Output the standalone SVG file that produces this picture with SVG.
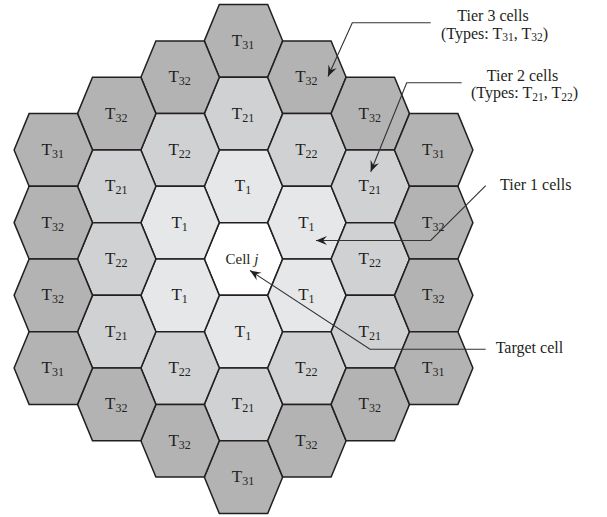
<svg xmlns="http://www.w3.org/2000/svg" xmlns:xlink="http://www.w3.org/1999/xlink" width="607" height="517" viewBox="0 0 607 517">
<style>
.hx{stroke:#231f20;stroke-width:1.5;stroke-linejoin:miter}
.t3{fill:#b3b3b3}
.t2{fill:#d0d1d3}
.t1{fill:#e6e7e8}
.c0{fill:#ffffff}
.lb{font-family:"Liberation Serif","Times New Roman",serif;font-size:17px;fill:#231f20;text-anchor:middle}
.lb tspan.s{font-size:12px}
.an{font-family:"Liberation Serif","Times New Roman",serif;font-size:16px;fill:#231f20}
.an tspan.s{font-size:11.5px}
.cn{fill:none;stroke:#333333;stroke-width:1.1}
</style>
<defs>
<polygon id="hex" points="-39.2,0 -24.2,-36.35 24.2,-36.35 39.2,0 24.2,36.35 -24.2,36.35"/>
<marker id="ah" markerUnits="userSpaceOnUse" markerWidth="14" markerHeight="12" viewBox="-12 -6 14 12" refX="0" refY="0" orient="auto">
<path d="M0,0 L-11,-4.5 L-7,0 L-11,4.5 Z" fill="#231f20"/>
</marker>
</defs>

<!-- column 0 -->
<g id="c0r-3"><use xlink:href="#hex" class="hx t3" x="243.5" y="40.9"/><text class="lb" x="243" y="45.9">T<tspan class="s" dy="3">31</tspan></text></g>
<g id="c0r-2"><use xlink:href="#hex" class="hx t2" x="243.5" y="113.6"/><text class="lb" x="243" y="118.6">T<tspan class="s" dy="3">21</tspan></text></g>
<g id="c0r-1"><use xlink:href="#hex" class="hx t1" x="243.5" y="186.3"/><text class="lb" x="243" y="191.3">T<tspan class="s" dy="3">1</tspan></text></g>
<g id="cellj"><use xlink:href="#hex" class="hx c0" x="243.5" y="259"/><text class="lb" x="242" y="264" style="font-size:15px">Cell <tspan font-style="italic">j</tspan></text></g>
<g id="c0r1"><use xlink:href="#hex" class="hx t1" x="243.5" y="331.7"/><text class="lb" x="243" y="336.7">T<tspan class="s" dy="3">1</tspan></text></g>
<g id="c0r2"><use xlink:href="#hex" class="hx t2" x="243.5" y="404.4"/><text class="lb" x="243" y="409.4">T<tspan class="s" dy="3">21</tspan></text></g>
<g id="c0r3"><use xlink:href="#hex" class="hx t3" x="243.5" y="477.1"/><text class="lb" x="243" y="482.1">T<tspan class="s" dy="3">31</tspan></text></g>

<!-- column -1 -->
<g id="cm1a"><use xlink:href="#hex" class="hx t3" x="180.1" y="77.25"/><text class="lb" x="179.6" y="82.25">T<tspan class="s" dy="3">32</tspan></text></g>
<g id="cm1b"><use xlink:href="#hex" class="hx t2" x="180.1" y="149.95"/><text class="lb" x="179.6" y="154.95">T<tspan class="s" dy="3">22</tspan></text></g>
<g id="cm1c"><use xlink:href="#hex" class="hx t1" x="180.1" y="222.65"/><text class="lb" x="179.6" y="227.65">T<tspan class="s" dy="3">1</tspan></text></g>
<g id="cm1d"><use xlink:href="#hex" class="hx t1" x="180.1" y="295.35"/><text class="lb" x="179.6" y="300.35">T<tspan class="s" dy="3">1</tspan></text></g>
<g id="cm1e"><use xlink:href="#hex" class="hx t2" x="180.1" y="368.05"/><text class="lb" x="179.6" y="373.05">T<tspan class="s" dy="3">22</tspan></text></g>
<g id="cm1f"><use xlink:href="#hex" class="hx t3" x="180.1" y="440.75"/><text class="lb" x="179.6" y="445.75">T<tspan class="s" dy="3">32</tspan></text></g>

<!-- column +1 -->
<g id="cp1a"><use xlink:href="#hex" class="hx t3" x="306.9" y="77.25"/><text class="lb" x="306.4" y="82.25">T<tspan class="s" dy="3">32</tspan></text></g>
<g id="cp1b"><use xlink:href="#hex" class="hx t2" x="306.9" y="149.95"/><text class="lb" x="306.4" y="154.95">T<tspan class="s" dy="3">22</tspan></text></g>
<g id="cp1c"><use xlink:href="#hex" class="hx t1" x="306.9" y="222.65"/><text class="lb" x="306.4" y="227.65">T<tspan class="s" dy="3">1</tspan></text></g>
<g id="cp1d"><use xlink:href="#hex" class="hx t1" x="306.9" y="295.35"/><text class="lb" x="306.4" y="300.35">T<tspan class="s" dy="3">1</tspan></text></g>
<g id="cp1e"><use xlink:href="#hex" class="hx t2" x="306.9" y="368.05"/><text class="lb" x="306.4" y="373.05">T<tspan class="s" dy="3">22</tspan></text></g>
<g id="cp1f"><use xlink:href="#hex" class="hx t3" x="306.9" y="440.75"/><text class="lb" x="306.4" y="445.75">T<tspan class="s" dy="3">32</tspan></text></g>

<!-- column -2 -->
<g id="cm2a"><use xlink:href="#hex" class="hx t3" x="116.7" y="113.6"/><text class="lb" x="116.2" y="118.6">T<tspan class="s" dy="3">32</tspan></text></g>
<g id="cm2b"><use xlink:href="#hex" class="hx t2" x="116.7" y="186.3"/><text class="lb" x="116.2" y="191.3">T<tspan class="s" dy="3">21</tspan></text></g>
<g id="cm2c"><use xlink:href="#hex" class="hx t2" x="116.7" y="259"/><text class="lb" x="116.2" y="264">T<tspan class="s" dy="3">22</tspan></text></g>
<g id="cm2d"><use xlink:href="#hex" class="hx t2" x="116.7" y="331.7"/><text class="lb" x="116.2" y="336.7">T<tspan class="s" dy="3">21</tspan></text></g>
<g id="cm2e"><use xlink:href="#hex" class="hx t3" x="116.7" y="404.4"/><text class="lb" x="116.2" y="409.4">T<tspan class="s" dy="3">32</tspan></text></g>

<!-- column +2 -->
<g id="cp2a"><use xlink:href="#hex" class="hx t3" x="370.3" y="113.6"/><text class="lb" x="369.8" y="118.6">T<tspan class="s" dy="3">32</tspan></text></g>
<g id="cp2b"><use xlink:href="#hex" class="hx t2" x="370.3" y="186.3"/><text class="lb" x="369.8" y="191.3">T<tspan class="s" dy="3">21</tspan></text></g>
<g id="cp2c"><use xlink:href="#hex" class="hx t2" x="370.3" y="259"/><text class="lb" x="369.8" y="264">T<tspan class="s" dy="3">22</tspan></text></g>
<g id="cp2d"><use xlink:href="#hex" class="hx t2" x="370.3" y="331.7"/><text class="lb" x="369.8" y="336.7">T<tspan class="s" dy="3">21</tspan></text></g>
<g id="cp2e"><use xlink:href="#hex" class="hx t3" x="370.3" y="404.4"/><text class="lb" x="369.8" y="409.4">T<tspan class="s" dy="3">32</tspan></text></g>

<!-- column -3 -->
<g id="cm3a"><use xlink:href="#hex" class="hx t3" x="53.3" y="149.95"/><text class="lb" x="52.8" y="154.95">T<tspan class="s" dy="3">31</tspan></text></g>
<g id="cm3b"><use xlink:href="#hex" class="hx t3" x="53.3" y="222.65"/><text class="lb" x="52.8" y="227.65">T<tspan class="s" dy="3">32</tspan></text></g>
<g id="cm3c"><use xlink:href="#hex" class="hx t3" x="53.3" y="295.35"/><text class="lb" x="52.8" y="300.35">T<tspan class="s" dy="3">32</tspan></text></g>
<g id="cm3d"><use xlink:href="#hex" class="hx t3" x="53.3" y="368.05"/><text class="lb" x="52.8" y="373.05">T<tspan class="s" dy="3">31</tspan></text></g>

<!-- column +3 -->
<g id="cp3a"><use xlink:href="#hex" class="hx t3" x="433.7" y="149.95"/><text class="lb" x="433.2" y="154.95">T<tspan class="s" dy="3">31</tspan></text></g>
<g id="cp3b"><use xlink:href="#hex" class="hx t3" x="433.7" y="222.65"/><text class="lb" x="433.2" y="227.65">T<tspan class="s" dy="3">32</tspan></text></g>
<g id="cp3c"><use xlink:href="#hex" class="hx t3" x="433.7" y="295.35"/><text class="lb" x="433.2" y="300.35">T<tspan class="s" dy="3">32</tspan></text></g>
<g id="cp3d"><use xlink:href="#hex" class="hx t3" x="433.7" y="368.05"/><text class="lb" x="433.2" y="373.05">T<tspan class="s" dy="3">31</tspan></text></g>

<!-- annotations -->
<g id="ann-tier3">
<text class="an" x="493" y="20.5" text-anchor="middle">Tier 3 cells</text>
<text class="an" x="494.5" y="38.5" text-anchor="middle">(Types: T<tspan class="s" dy="2.5">31</tspan><tspan dy="-2.5">, T</tspan><tspan class="s" dy="2.5">32</tspan><tspan dy="-2.5">)</tspan></text>
</g>
<g id="ann-tier2">
<text class="an" x="522.5" y="80.5" text-anchor="middle">Tier 2 cells</text>
<text class="an" x="524.5" y="98" text-anchor="middle">(Types: T<tspan class="s" dy="2.5">21</tspan><tspan dy="-2.5">, T</tspan><tspan class="s" dy="2.5">22</tspan><tspan dy="-2.5">)</tspan></text>
</g>
<g id="ann-tier1"><text class="an" x="500" y="189.5">Tier 1 cells</text></g>
<g id="ann-target"><text class="an" x="495.7" y="353">Target cell</text></g>

<!-- connectors -->
<g id="connectors">
<polyline class="cn" points="430.7,22.7 352.3,22.7 328,76.5" marker-end="url(#ah)"/>
<polyline class="cn" points="461.7,82.7 406.7,82.7 370.7,171.7" marker-end="url(#ah)"/>
<polyline class="cn" points="485.7,185.7 430.7,240.5 316,240.5" marker-end="url(#ah)"/>
<polyline class="cn" points="485.7,349.3 370,349.3 250,270.5" marker-end="url(#ah)"/>
</g>
</svg>
